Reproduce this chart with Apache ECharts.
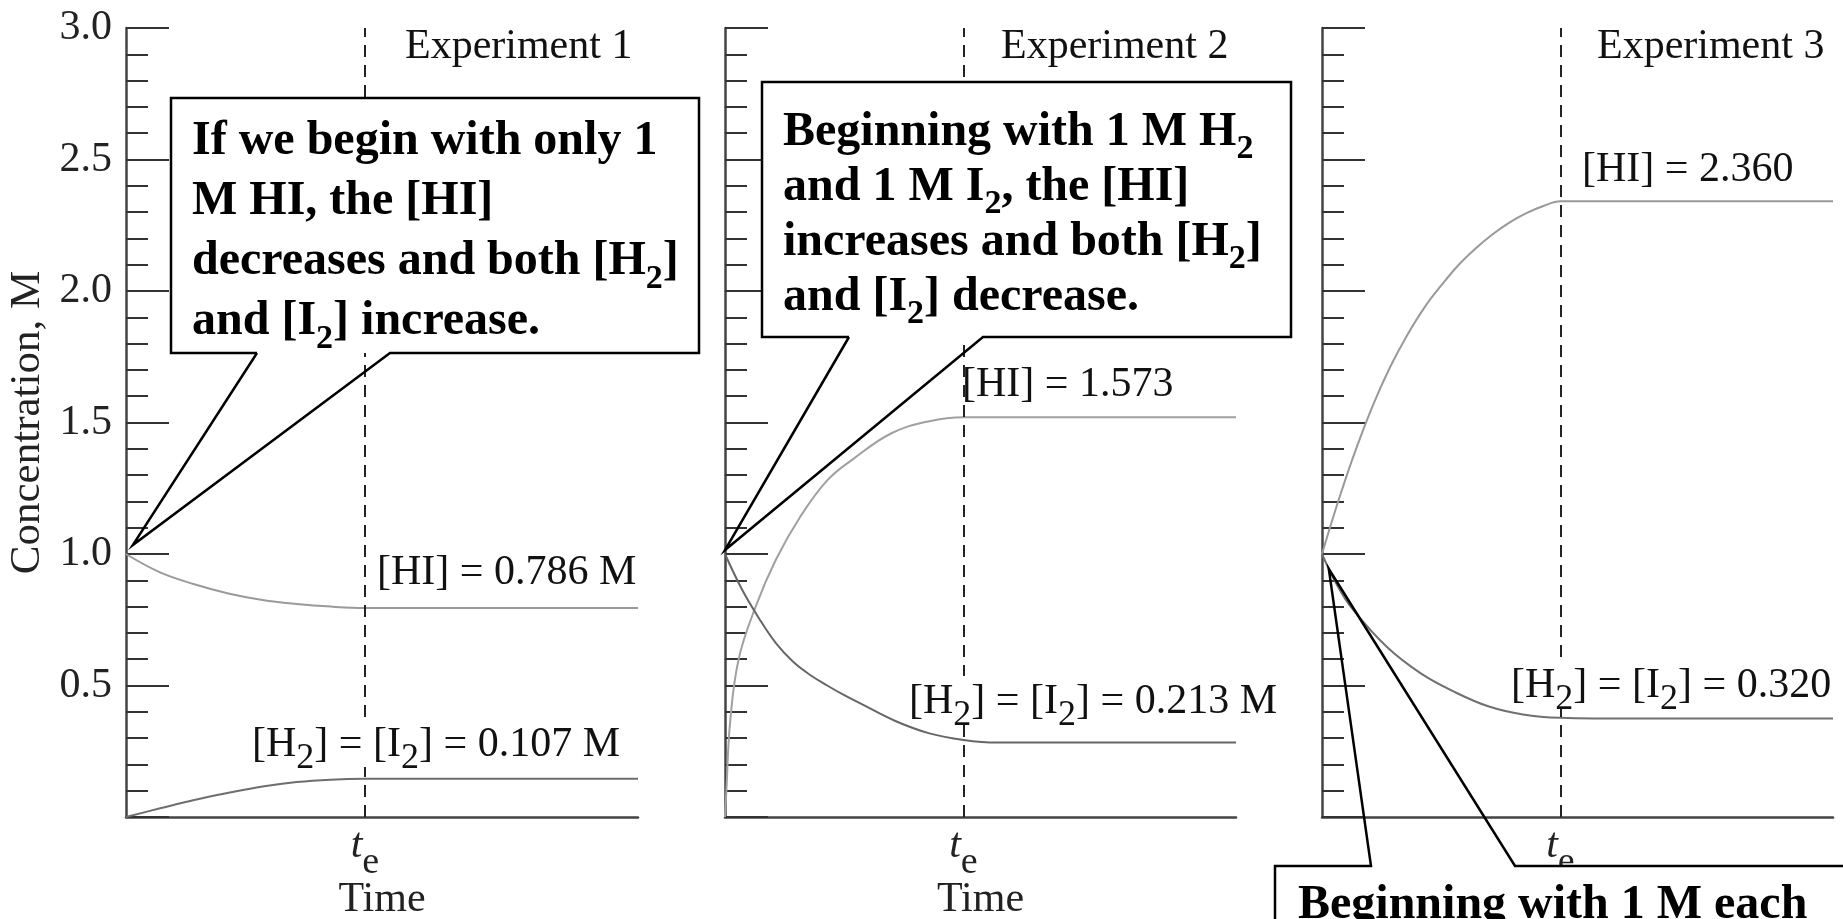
<!DOCTYPE html>
<html><head><meta charset="utf-8">
<script src="https://cdn.jsdelivr.net/npm/echarts@6/dist/echarts.min.js"></script>
<style>html,body{margin:0;padding:0;background:#fff;overflow:hidden}#c{width:1843px;height:919px}</style>
</head><body><div id="c"></div>
<script>
// ---------------- data ----------------
const tEq = 7;          // equilibrium time t_e
const tEnd = 15;        // end of time axis
const yMin = 0, yMax = 3.0, yStep = 0.5;
const experimentTitles = ['Experiment 1', 'Experiment 2', 'Experiment 3'];

const exp1TimeHI = [0, 1, 2, 3, 4, 5, 6, 7, 15];
const exp1HI     = [1.0, 0.93, 0.885, 0.85, 0.825, 0.81, 0.80, 0.795, 0.795];
const exp1TimeH2 = [0, 1, 2, 3, 4, 5, 6, 7, 15];
const exp1H2     = [0, 0.033, 0.065, 0.092, 0.116, 0.133, 0.142, 0.145, 0.145];

const exp2TimeHI = [0, 0.04, 0.15, 0.4, 0.9, 1.5, 2.2, 3.0, 3.75, 4.9, 6.0, 7.0, 15];
const exp2HI     = [0, 0.1, 0.36, 0.6, 0.8, 0.98, 1.14, 1.28, 1.36, 1.46, 1.505, 1.52, 1.52];
const exp2TimeH2 = [0, 0.5, 1, 1.5, 2, 2.5, 3, 3.5, 4, 5, 6, 7, 8, 15];
const exp2H2     = [1.0, 0.865, 0.755, 0.66, 0.59, 0.54, 0.50, 0.463, 0.43, 0.365, 0.318, 0.293, 0.283, 0.283];

const exp3TimeHI = [0, 0.5, 1, 1.5, 2, 2.5, 3, 3.5, 4, 4.5, 5, 5.5, 6, 6.5, 7, 15];
const exp3HI     = [1.0, 1.21, 1.40, 1.567, 1.711, 1.832, 1.936, 2.021, 2.098, 2.161, 2.215, 2.26, 2.296, 2.323, 2.341, 2.341];
const exp3TimeH2 = [0, 0.45, 0.9, 1.9, 2.9, 3.9, 4.9, 5.9, 7.0, 8.0, 15];
const exp3H2     = [1.0, 0.88, 0.79, 0.647, 0.546, 0.475, 0.42, 0.39, 0.377, 0.375, 0.375];

// callout tips (data coords per panel)
const calloutTips = [[0.2, 1.034], [0.0, 1.015], [0.2, 0.943]];

// ---------------- chart ----------------
const FONT = 'Liberation Serif';
const chart = echarts.init(document.getElementById('c'), null, {renderer: 'canvas'});

const gridBoxes = [
  {left: 126, top: 28, width: 512, height: 789},
  {left: 725, top: 28, width: 511, height: 789},
  {left: 1322, top: 28, width: 511, height: 789}
];

function yAxis(i) {
  return {
    type: 'value', gridIndex: i, min: yMin, max: yMax, interval: yStep,
    axisLine: {show: true, lineStyle: {color: '#444', width: 2.5}},
    axisTick: {show: true, inside: true, length: 43, lineStyle: {color: '#333', width: 2}},
    minorTick: {show: true, splitNumber: 5, length: 22, lineStyle: {color: '#333', width: 2}},
    splitLine: {show: false}, minorSplitLine: {show: false},
    axisLabel: {show: i === 0, margin: 14, fontFamily: FONT, fontSize: 42, color: '#222',
      formatter: v => (v === 0 ? '' : v.toFixed(1))},
    name: i === 0 ? 'Concentration, M' : '', nameLocation: 'middle', nameRotate: 90, nameGap: 77,
    nameMoveOverlap: false,
    nameTextStyle: {fontFamily: FONT, fontSize: 43, color: '#222'}
  };
}
function xAxis(i) {
  return {
    type: 'value', gridIndex: i, min: 0, max: tEnd,
    axisLine: {show: true, onZero: false, lineStyle: {color: '#444', width: 2.5}},
    axisTick: {show: true, inside: true, length: 10, customValues: [tEq], lineStyle: {color: '#333', width: 2}},
    splitLine: {show: false},
    axisLabel: {show: true, customValues: [tEq], margin: 8, formatter: () => '{t|t}{e|e}',
      rich: {
        t: {fontFamily: FONT, fontStyle: 'italic', fontSize: 42, color: '#222', height: 42, lineHeight: 56, verticalAlign: 'top'},
        e: {fontFamily: FONT, fontSize: 38, color: '#222', height: 36, lineHeight: 56, verticalAlign: 'bottom'}
      }},
    name: i < 2 ? 'Time' : '', nameLocation: 'middle', nameGap: 62, nameMoveOverlap: false,
    nameTextStyle: {fontFamily: FONT, fontSize: 42, color: '#222'}
  };
}
function curve(i, xs, ys, color, withTe) {
  const s = {
    type: 'line', xAxisIndex: i, yAxisIndex: i, data: xs.map((x, k) => [x, ys[k]]),
    showSymbol: false, smooth: 0.4, silent: true,
    lineStyle: {color: color, width: 2}, z: 3
  };
  if (withTe) {
    s.markLine = {silent: true, symbol: ['none', 'none'], label: {show: false},
      lineStyle: {type: [12, 8], color: '#222', width: 2}, data: [{xAxis: tEq}]};
  }
  return s;
}

chart.setOption({
  animation: false,
  backgroundColor: '#fff',
  grid: gridBoxes.map(g => Object.assign({containLabel: false, outerBoundsMode: 'none'}, g)),
  xAxis: [0, 1, 2].map(xAxis),
  yAxis: [0, 1, 2].map(yAxis),
  series: [
    curve(0, exp1TimeHI, exp1HI, '#9a9a9a', true),
    curve(0, exp1TimeH2, exp1H2, '#6e6e6e', false),
    curve(1, exp2TimeHI, exp2HI, '#a0a0a0', true),
    curve(1, exp2TimeH2, exp2H2, '#666', false),
    curve(2, exp3TimeHI, exp3HI, '#999', true),
    curve(2, exp3TimeH2, exp3H2, '#707070', false)
  ]
});

// ---------------- annotations ----------------
const px = (i, p) => chart.convertToPixel({gridIndex: i}, p);

function plainLabel(text, x, top, bg) {
  const lh = bg ? 44 : 48;
  return {
    type: 'text', x: x, y: top, z: 50,
    style: {
      text: text, fontFamily: FONT, fontSize: 42, fill: '#111', lineHeight: lh, verticalAlign: 'top',
      backgroundColor: bg ? '#fff' : null, padding: bg ? [4, 2, 0, 2] : 0,
      rich: {s: {fontFamily: FONT, fontSize: 36, fill: '#111', height: bg ? 16 : 20, lineHeight: lh, verticalAlign: 'bottom'}}
    }
  };
}
function boldBlock(lines, x, top, lh, subH) {
  return {
    type: 'text', x: x, y: top, z: 120,
    style: {
      text: lines.join('\n'), fontFamily: FONT, fontWeight: 'bold', fontSize: 48, fill: '#000',
      lineHeight: lh, verticalAlign: 'top',
      rich: {s: {fontFamily: FONT, fontWeight: 'bold', fontSize: 34, fill: '#000', height: subH, lineHeight: lh, verticalAlign: 'bottom'}}
    }
  };
}
function calloutBox(box, baseL, baseR, tip) {
  const [x0, y0, x1, y1] = box;
  return [
    {type: 'rect', z: 100, shape: {x: x0, y: y0, width: x1 - x0, height: y1 - y0}, style: {fill: '#fff'}},
    {type: 'polyline', z: 110, shape: {points: [[baseL, y1], [x0, y1], [x0, y0], [x1, y0], [x1, y1], [baseR, y1], tip, [baseL, y1]]},
      style: {stroke: '#000', lineWidth: 2.5, fill: null}}
  ];
}

const tip1 = px(0, calloutTips[0]);
const tip2 = px(1, calloutTips[1]);
const tip3 = px(2, calloutTips[2]);

const graphics = [];
graphics.push(plainLabel(experimentTitles[0], 405, 23, false));
graphics.push(plainLabel(experimentTitles[1], 1001, 23, false));
graphics.push(plainLabel(experimentTitles[2], 1597, 23, false));
graphics.push(plainLabel('[HI] = 0.786 M', 377, 549, false));
graphics.push(plainLabel('[H{s|2}] = [I{s|2}] = 0.107 M', 250, 719, true));
graphics.push(plainLabel('[HI] = 1.573', 962, 361, false));
graphics.push(plainLabel('[H{s|2}] = [I{s|2}] = 0.213 M', 907, 676, true));
graphics.push(plainLabel('[HI] = 2.360', 1582, 146, false));
graphics.push(plainLabel('[H{s|2}] = [I{s|2}] = 0.320', 1509, 660, true));

graphics.push(...calloutBox([171, 98, 699, 353], 257, 390, tip1));
graphics.push(boldBlock(['If we begin with only 1', 'M HI, the [HI]', 'decreases and both [H{s|2}]', 'and [I{s|2}] increase.'], 192, 112, 60, 26));
graphics.push(...calloutBox([762, 82, 1291, 337], 849, 983, tip2));
graphics.push(boldBlock(['Beginning with 1 M H{s|2}', 'and 1 M I{s|2}, the [HI]', 'increases and both [H{s|2}]', 'and [I{s|2}] decrease.'], 783, 105, 55, 22));

// third callout runs off the bottom edge
graphics.push({type: 'rect', z: 100, shape: {x: 1275, y: 866, width: 600, height: 80}, style: {fill: '#fff'}});
graphics.push({type: 'polyline', z: 110, shape: {points: [[1275, 950], [1275, 866], [1371, 866], tip3, [1515, 866], [1880, 866]]},
  style: {stroke: '#000', lineWidth: 2.5, fill: null}});
graphics.push(boldBlock(['Beginning with 1 M each'], 1298, 877, 57, 24));

chart.setOption({graphic: graphics});
</script>
</body></html>
